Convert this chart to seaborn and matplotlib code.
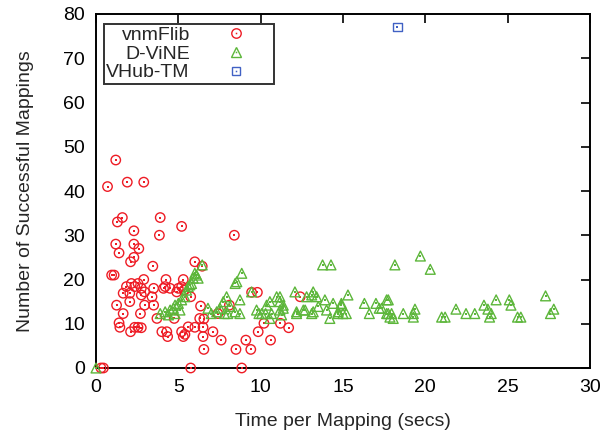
import matplotlib
matplotlib.use("Agg")
import numpy as np
import pandas as pd
import seaborn as sns
import matplotlib.pyplot as plt
from matplotlib.lines import Line2D

# ---------------- data ----------------
vnm_x = [1.2, 0.7, 1.9, 2.9, 1.6, 1.3, 3.9, 5.2, 2.3, 3.85, 8.4, 1.2, 2.3, 2.6, 1.4, 2.3, 2.1, 6.0, 3.45, 6.45,
         0.95, 1.1, 2.9, 4.25, 5.3,
         1.85, 2.15, 2.35, 2.55, 2.75, 2.95, 3.4, 3.5, 4.1, 4.2, 4.5, 5.0, 5.2, 1.65, 2.05, 2.75, 5.35, 4.9,
         1.25, 2.05, 2.95, 3.5, 1.65, 2.7, 3.7, 4.75,
         1.4, 1.45, 2.1, 2.35, 2.55, 2.75, 4.0, 4.3, 4.35, 5.2, 5.3, 5.4, 5.6,
         0.3, 0.45, 5.75, 8.85,
         5.75, 6.35, 6.3, 6.55, 6.0, 6.5, 6.5, 7.1, 7.6, 6.55, 8.5, 9.1, 9.4, 8.1, 7.4, 9.45, 9.8, 9.85,
         10.2, 10.6, 11.2, 11.7, 12.4]
vnm_y = [47, 41, 42, 42, 34, 33, 34, 32, 31, 30, 30, 28, 28, 27, 26, 25, 24, 24, 23, 23,
         21, 21, 20, 20, 20,
         18.4, 19.1, 18.4, 19.1, 18.0, 17.2, 16.1, 18.0, 18.0, 18.4, 18.0, 18.0, 18.4, 16.9, 16.9, 16.5, 17.6, 17.2,
         14.2, 15.0, 14.2, 14.2, 12.3, 12.3, 11.2, 11.2,
         10.2, 9.2, 8.2, 9.2, 9.2, 9.1, 8.2, 8.2, 7.1, 8.2, 7.1, 7.6, 9.3,
         0, 0, 0, 0,
         16.1, 14.0, 11.2, 11.1, 9.2, 9.2, 7.1, 8.2, 6.3, 4.2, 4.2, 6.3, 4.2, 14.2, 12.3, 17.1, 17.1, 8.2,
         10.1, 6.3, 10.1, 9.1, 16.1]

dvine_x = [0.0,
           3.9, 4.2, 4.4, 4.5, 4.7, 4.8, 4.8, 5.0, 5.1, 5.2, 5.4, 5.5, 5.6, 5.7, 5.8, 5.9, 6.1, 6.2, 6.0, 6.45,
           6.8, 7.0, 7.33, 7.53, 7.73, 7.93, 8.14, 8.44, 8.74, 8.74, 8.55, 8.45, 8.85, 9.45, 7.8, 8.0,
           9.75, 10.06, 10.36, 10.56, 10.97, 11.17, 11.37, 10.66, 11.27, 10.56, 11.17, 11.37, 11.17, 9.9, 10.3,
           12.08, 12.18, 12.59, 12.79, 13.19, 13.1, 13.4, 13.19, 13.5, 13.9, 14.0, 14.2, 14.4, 14.7, 14.9, 14.9,
           15.3, 15.2, 15.0, 14.7, 12.18, 12.7, 13.1, 13.76, 14.27,
           16.3, 16.6, 17.0, 17.2, 17.35, 17.65, 17.75, 17.65, 17.75, 17.95, 17.85, 18.05, 18.15, 18.66,
           19.7, 20.3, 19.27, 19.37, 19.27, 20.99, 21.2, 21.86, 22.47, 23.0, 23.56, 23.8, 24.0, 23.9,
           24.3, 25.1, 25.2, 25.6, 25.8, 27.3, 27.8, 27.6]
dvine_y = [0.0,
           12.3, 12.7, 12.0, 13.1, 13.5, 12.3, 14.2, 14.6, 13.1, 15.4, 16.1, 17.6, 18.4, 18.8, 19.1, 20.3, 21.0, 20.3, 21.4, 23.3,
           13.5, 12.3, 12.7, 13.5, 15.0, 16.1, 13.9, 12.7, 12.3, 15.4, 19.5, 19.1, 21.4, 17.2, 12.3, 12.3,
           13.1, 12.3, 14.2, 15.0, 16.1, 15.0, 13.5, 12.3, 12.0, 11.2, 16.1, 14.2, 13.1, 12.3, 12.3,
           17.2, 12.7, 13.1, 16.1, 17.2, 16.5, 16.1, 12.7, 13.9, 15.4, 13.1, 11.2, 14.6, 12.7, 14.2, 14.6,
           16.5, 12.3, 12.3, 12.3, 12.3, 13.1, 12.3, 23.3, 23.3,
           14.6, 12.3, 14.6, 13.5, 13.5, 15.4, 15.4, 12.3, 12.3, 12.3, 11.5, 11.2, 23.3, 12.3,
           25.3, 22.3, 11.5, 13.3, 12.3, 11.5, 11.5, 13.3, 12.3, 12.3, 14.2, 13.3, 12.3, 11.5,
           15.4, 15.4, 14.2, 11.5, 11.5, 16.3, 13.3, 12.3]

vhub_x = [18.3]
vhub_y = [77]

series_names = ["vnmFlib", "D-ViNE", "VHub-TM"]
x_ticks = [0, 5, 10, 15, 20, 25, 30]
y_ticks = [0, 10, 20, 30, 40, 50, 60, 70, 80]

# ---------------- style ----------------
sns.set_theme(style="white")
plt.rcParams["font.family"] = ["Liberation Sans", "DejaVu Sans"]

RED = "#ee1c25"
GREEN = "#5cb63a"
BLUE = "#4161c4"
FS = 14

fig = plt.figure(figsize=(6.15, 4.32), dpi=100)
ax = fig.add_axes([96 / 615, 1 - 368 / 432, 494 / 615, 354 / 432])


def draw(xs, ys, marker, color, size):
    df = pd.DataFrame({"x": xs, "y": ys})
    sns.scatterplot(data=df, x="x", y="y", marker=marker, s=size, facecolors="none",
                    edgecolor=color, linewidth=1.0, ax=ax, legend=False, clip_on=False, zorder=3)
    sns.scatterplot(data=df, x="x", y="y", marker="s", s=1.2, color=color, linewidth=0,
                    ax=ax, legend=False, clip_on=False, zorder=3)


draw(vnm_x, vnm_y, "o", RED, 46)
draw(dvine_x, dvine_y, "^", GREEN, 50)
draw(vhub_x, vhub_y, "s", BLUE, 36)

ax.set_xlim(0, 30)
ax.set_ylim(0, 80)
ax.set_xticks(x_ticks)
ax.set_yticks(y_ticks)
ax.set_xlabel("Time per Mapping (secs)", fontsize=FS, labelpad=12)
ax.set_ylabel("Number of Successful Mappings", fontsize=FS, labelpad=21)
ax.tick_params(direction="in", length=6.5, width=1.2, top=True, right=True,
               labelsize=FS, pad=8, colors="black")
for sp in ax.spines.values():
    sp.set_visible(True)
    sp.set_color("black")
    sp.set_linewidth(1.4)

# legend
handles = []
for mk, c, ms in [("o", RED, 6.8), ("^", GREEN, 7.0), ("s", BLUE, 6.0)]:
    h1 = Line2D([], [], marker=mk, ls="none", mfc="none", mec=c, ms=ms, mew=1.0)
    h2 = Line2D([], [], marker="s", ls="none", mfc=c, mec=c, ms=1.1, mew=0)
    handles.append((h1, h2))
leg = ax.legend(handles, series_names, loc="upper left",
                bbox_to_anchor=((104 - 96) / 494, (368 - 24) / 354),
                borderaxespad=0, markerfirst=False, fontsize=FS, frameon=True,
                fancybox=False, edgecolor="black", borderpad=0.12, labelspacing=0.06,
                handlelength=3.7, handletextpad=0.5)
leg.get_frame().set_linewidth(1.4)

fig.savefig("out.png", dpi=100)
